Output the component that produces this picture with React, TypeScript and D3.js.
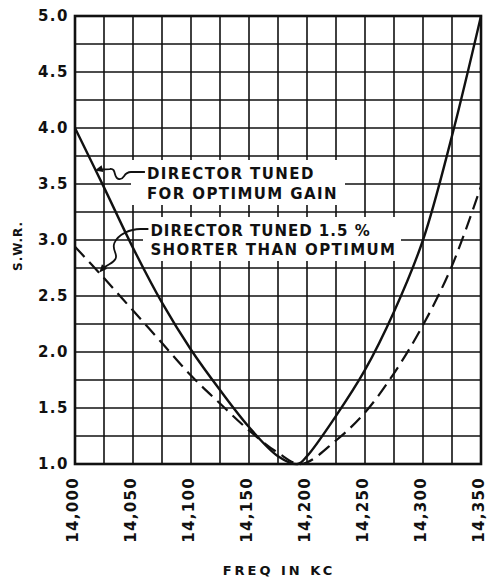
import React from "react";
import * as d3 from "d3";

const freqTicks = [14000, 14050, 14100, 14150, 14200, 14250, 14300, 14350];
const swrTicks = [1.0, 1.5, 2.0, 2.5, 3.0, 3.5, 4.0, 4.5, 5.0];

const freqSolid = [14000, 14025, 14050, 14075, 14100, 14125, 14150, 14175, 14192, 14200, 14225, 14250, 14275, 14300, 14325, 14350];
const swrSolid = [4.0, 3.47, 2.93, 2.44, 2.02, 1.66, 1.33, 1.07, 1.0, 1.07, 1.43, 1.84, 2.36, 3.0, 3.93, 5.0];

const freqDashed = [14000, 14025, 14050, 14075, 14100, 14125, 14150, 14175, 14195, 14225, 14250, 14275, 14300, 14325, 14350];
const swrDashed = [2.94, 2.66, 2.37, 2.08, 1.79, 1.54, 1.3, 1.1, 1.0, 1.21, 1.46, 1.81, 2.24, 2.77, 3.48];

const labelOptimum = ["DIRECTOR TUNED", "FOR OPTIMUM GAIN"];
const labelShorter = ["DIRECTOR TUNED 1.5 %", "SHORTER THAN OPTIMUM"];

const FONT = "'DejaVu Sans', 'Liberation Sans', sans-serif";

function arrowHead(tip: [number, number], from: [number, number], len = 8, half = 3.5) {
  const dx = tip[0] - from[0];
  const dy = tip[1] - from[1];
  const d = Math.hypot(dx, dy) || 1;
  const ux = dx / d, uy = dy / d;
  const bx = tip[0] - ux * len, by = tip[1] - uy * len;
  const px = -uy, py = ux;
  return `M${tip[0]},${tip[1]}L${bx + px * half},${by + py * half}L${bx - px * half},${by - py * half}Z`;
}

export default function App() {
  const W = 488, H = 577;
  const x = d3.scaleLinear().domain([14000, 14350]).range([75, 481]);
  const y = d3.scaleLinear().domain([1, 5]).range([464, 16]);
  const gridX = d3.range(14000, 14350.01, 25);
  const gridY = d3.range(1, 5.001, 0.25);
  const line = d3
    .line<[number, number]>()
    .x((d) => x(d[0]))
    .y((d) => Math.min(y(d[1]), y(1)))
    .curve(d3.curveCatmullRom.alpha(0.5));
  const solidPts = freqSolid.map((f, i) => [f, swrSolid[i]] as [number, number]);
  const dashedPts = freqDashed.map((f, i) => [f, swrDashed[i]] as [number, number]);
  const fmtX = d3.format(",");
  const fmtY = d3.format(".1f");

  // annotation anchors
  const tip1: [number, number] = [x(14017), y(3.62)];
  const tip2: [number, number] = [x(14021), y(2.71)];
  const t1x = x(14062), t1b = 179;
  const t2x = x(14065), t2b = 236;
  const l1y = t1b - 7;
  const l2y = t2b - 7;

  const leader1 = `M${t1x - 2},${l1y} L${t1x - 16},${l1y} C${t1x - 24},${l1y} ${t1x - 22},${l1y + 8} ${t1x - 28},${l1y + 7} C${t1x - 34},${l1y + 6} ${t1x - 30},${l1y - 4} ${t1x - 37},${l1y - 3} L${tip1[0] + 5},${tip1[1] - 1}`;
  const leader2 = `M${t2x - 2},${l2y} L${t2x - 10},${l2y} C${t2x - 20},${l2y} ${t2x - 32},${l2y + 5} ${t2x - 36},${l2y + 14} C${t2x - 39},${l2y + 21} ${t2x - 32},${l2y + 25} ${t2x - 35},${l2y + 30} C${t2x - 37},${l2y + 34} ${t2x - 42},${l2y + 35} ${tip2[0] + 5},${tip2[1] - 5}`;

  return (
    <div style={{ position: "absolute", left: 0, top: 0 }}>
      <svg width={W} height={H} style={{ display: "block", background: "#fff" }}>
        {/* grid */}
        <g stroke="#111" strokeWidth={1.6}>
          {gridX.map((g) => (
            <line key={"gx" + g} x1={x(g)} x2={x(g)} y1={y(1)} y2={y(5)} />
          ))}
          {gridY.map((g) => (
            <line key={"gy" + g} x1={x(14000)} x2={x(14350)} y1={y(g)} y2={y(g)} />
          ))}
        </g>
        {/* white label boxes */}
        <rect x={131} y={160} width={214} height={45} fill="#fff" />
        <rect x={143} y={217} width={258} height={44} fill="#fff" />
        {/* frame */}
        <rect x={x(14000)} y={y(5)} width={x(14350) - x(14000)} height={y(1) - y(5)} fill="none" stroke="#111" strokeWidth={2.6} />
        {/* curves */}
        <path d={line(dashedPts) || ""} fill="none" stroke="#111" strokeWidth={2.2} strokeDasharray="14 7" />
        <path d={line(solidPts) || ""} fill="none" stroke="#111" strokeWidth={2.4} />
        {/* leaders */}
        <path d={leader1} fill="none" stroke="#111" strokeWidth={1.8} />
        <path d={arrowHead(tip1, [tip1[0] + 8, tip1[1] - 2])} fill="#111" />
        <path d={leader2} fill="none" stroke="#111" strokeWidth={1.8} />
        <path d={arrowHead(tip2, [tip2[0] + 6, tip2[1] - 7])} fill="#111" />
        {/* labels */}
        <g fontFamily={FONT} fontWeight="bold" fontSize={15} letterSpacing={1.4} fill="#111">
          {labelOptimum.map((t, i) => (
            <text key={"l1" + i} x={t1x} y={t1b + i * 19.5}>{t}</text>
          ))}
          {labelShorter.map((t, i) => (
            <text key={"l2" + i} x={t2x} y={t2b + i * 19} letterSpacing={i === 0 ? 1.0 : 1.4}>{t}</text>
          ))}
        </g>
        {/* y tick labels */}
        <g fontFamily={FONT} fontWeight="bold" fontSize={15} letterSpacing={1.5} fill="#111" textAnchor="end">
          {swrTicks.map((v) => (
            <text key={"yt" + v} x={69} y={y(v)} dominantBaseline="central">{fmtY(v)}</text>
          ))}
        </g>
        {/* x tick labels */}
        <g fontFamily={FONT} fontWeight="bold" fontSize={15} letterSpacing={1.3} fill="#111" textAnchor="end">
          {freqTicks.map((f) => (
            <text key={"xt" + f} transform={`translate(${x(f) - 2},477) rotate(-90)`} dominantBaseline="central">{fmtX(f)}</text>
          ))}
        </g>
        {/* axis titles */}
        <text transform={`translate(18,246) rotate(-90)`} textAnchor="middle" dominantBaseline="central" fontFamily={FONT} fontWeight="bold" fontSize={12} letterSpacing={1} fill="#111">S.W.R.</text>
        <text x={279} y={570} textAnchor="middle" dominantBaseline="central" fontFamily={FONT} fontWeight="bold" fontSize={13} letterSpacing={3} fill="#111">FREQ IN KC</text>
      </svg>
    </div>
  );
}
